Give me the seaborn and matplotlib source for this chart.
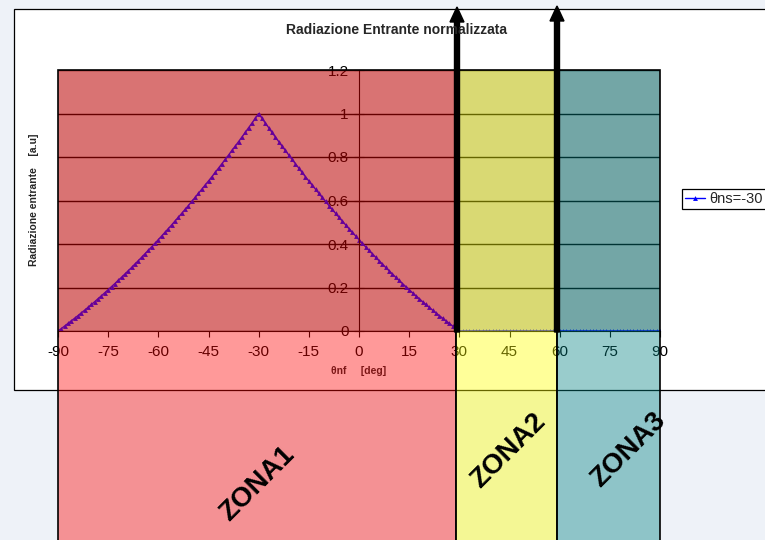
import matplotlib
matplotlib.use("Agg")
import matplotlib.pyplot as plt
from matplotlib.patches import Rectangle
import pandas as pd
import seaborn as sns

# theta_nf from -90 to 90 deg, 1 deg step
theta_nf = list(range(-90, 91))
# rising branch, theta_nf = -90 .. -30
rise = [0.000, 0.011, 0.023, 0.035, 0.047, 0.059, 0.071, 0.084, 0.096, 0.109,
        0.122, 0.135, 0.149, 0.162, 0.176, 0.190, 0.204, 0.218, 0.233, 0.247,
        0.262, 0.277, 0.292, 0.308, 0.323, 0.339, 0.355, 0.371, 0.387, 0.403,
        0.420, 0.437, 0.454, 0.471, 0.488, 0.506, 0.523, 0.541, 0.559, 0.577,
        0.596, 0.614, 0.633, 0.652, 0.671, 0.690, 0.709, 0.729, 0.749, 0.769,
        0.789, 0.809, 0.830, 0.850, 0.871, 0.892, 0.913, 0.935, 0.956, 0.978,
        1.000]
# curve is symmetric around -30, then zero from 30 to 90
rad = rise + rise[-2::-1] + [0.0] * 60
series_label = "θns=-30"

x_ticks = list(range(-90, 91, 15))
y_ticks = [0, 0.2, 0.4, 0.6, 0.8, 1.0, 1.2]
y_ticklabels = ["0", "0.2", "0.4", "0.6", "0.8", "1", "1.2"]

zone_names = ["ZONA1", "ZONA2", "ZONA3"]
zone_colors = [(1.0, 0.0, 0.0, 0.4), (1.0, 1.0, 0.0, 0.4), (0.0, 0.5, 0.5, 0.4)]

sns.set_style("ticks")
plt.rcParams["font.family"] = ["Liberation Sans", "DejaVu Sans"]

W, H = 765, 540
fig = plt.figure(figsize=(W / 100, H / 100), dpi=100, facecolor="#eef2f8")


def px(x0, y0, x1, y1):
    return [x0 / W, 1 - y1 / H, (x1 - x0) / W, (y1 - y0) / H]


# slide background + white chart box
bg = fig.add_axes([0, 0, 1, 1])
bg.set_xlim(0, W)
bg.set_ylim(H, 0)
bg.axis("off")
bg.add_patch(Rectangle((14, 9), 800, 381, fc="white", ec="black", lw=0.9))

# excel-like plot area
ax = fig.add_axes(px(58, 70, 660, 331))
ax.set_facecolor("#c0c0c0")
df = pd.DataFrame({"theta": theta_nf, "rad": rad})
sns.lineplot(data=df, x="theta", y="rad", ax=ax, color="#0000ff", lw=1,
             marker="^", markersize=3.5, markeredgewidth=0, label=series_label)
ax.set_xlim(-90, 90)
ax.set_ylim(0, 1.2)
ax.set_xticks(x_ticks)
ax.set_xticklabels([str(t) for t in x_ticks])
ax.set_yticks(y_ticks)
ax.set_yticklabels(y_ticklabels)
ax.grid(axis="y", color="black", lw=1)
ax.set_axisbelow(True)
for s in ["top", "right"]:
    ax.spines[s].set_visible(False)
ax.spines["left"].set_position(("data", 0))
ax.spines["left"].set_color("black")
ax.spines["bottom"].set_color("black")
ax.tick_params(axis="y", direction="inout", length=7, pad=4, labelsize=11,
               colors="black")
ax.tick_params(axis="x", direction="out", length=4, pad=6, labelsize=11,
               colors="black")
ax.set_xlabel("θnf     [deg]", fontsize=7.5, fontweight="bold", labelpad=5)
ax.set_ylabel("")

handles, labels = ax.get_legend_handles_labels()
ax.get_legend().remove()
leg = fig.legend(handles, labels, loc="upper left",
                 bbox_to_anchor=(682 / W, 1 - 189 / H), frameon=True,
                 fancybox=False, edgecolor="black", framealpha=1,
                 fontsize=10.5, borderpad=0.2, handlelength=1.4,
                 handletextpad=0.3, borderaxespad=0)
leg.get_frame().set_linewidth(0.9)

fig.text(396 / W, 1 - 30 / H, "Radiazione Entrante normalizzata",
         ha="center", va="center", fontsize=10, fontweight="bold")
fig.text(34 / W, 1 - 200 / H, "Radiazione entrante    [a.u]", rotation=90,
         ha="center", va="center", fontsize=7.5, fontweight="bold")

# transparent zone overlays, arrows and labels on top
ov = fig.add_axes([0, 0, 1, 1])
ov.set_xlim(0, W)
ov.set_ylim(H, 0)
ov.axis("off")
ov.patch.set_alpha(0)
edges = [58, 456, 557, 660]
for i in range(3):
    ov.add_patch(Rectangle((edges[i], 70), edges[i + 1] - edges[i], 480,
                           fc=zone_colors[i], ec="black", lw=1.2))
for xa, tip in [(457, 7), (557, 6)]:
    ov.arrow(xa, 332, 0, tip - 332, width=5, head_width=14, head_length=15,
             length_includes_head=True, fc="black", ec="black")
for (xc, yc), name in zip([(257, 484), (508, 451), (628, 450)], zone_names):
    ov.text(xc, yc, name, rotation=45, ha="center", va="center",
            fontsize=20, fontweight="bold", color="black")

fig.savefig("out.png", dpi=100, facecolor=fig.get_facecolor())
